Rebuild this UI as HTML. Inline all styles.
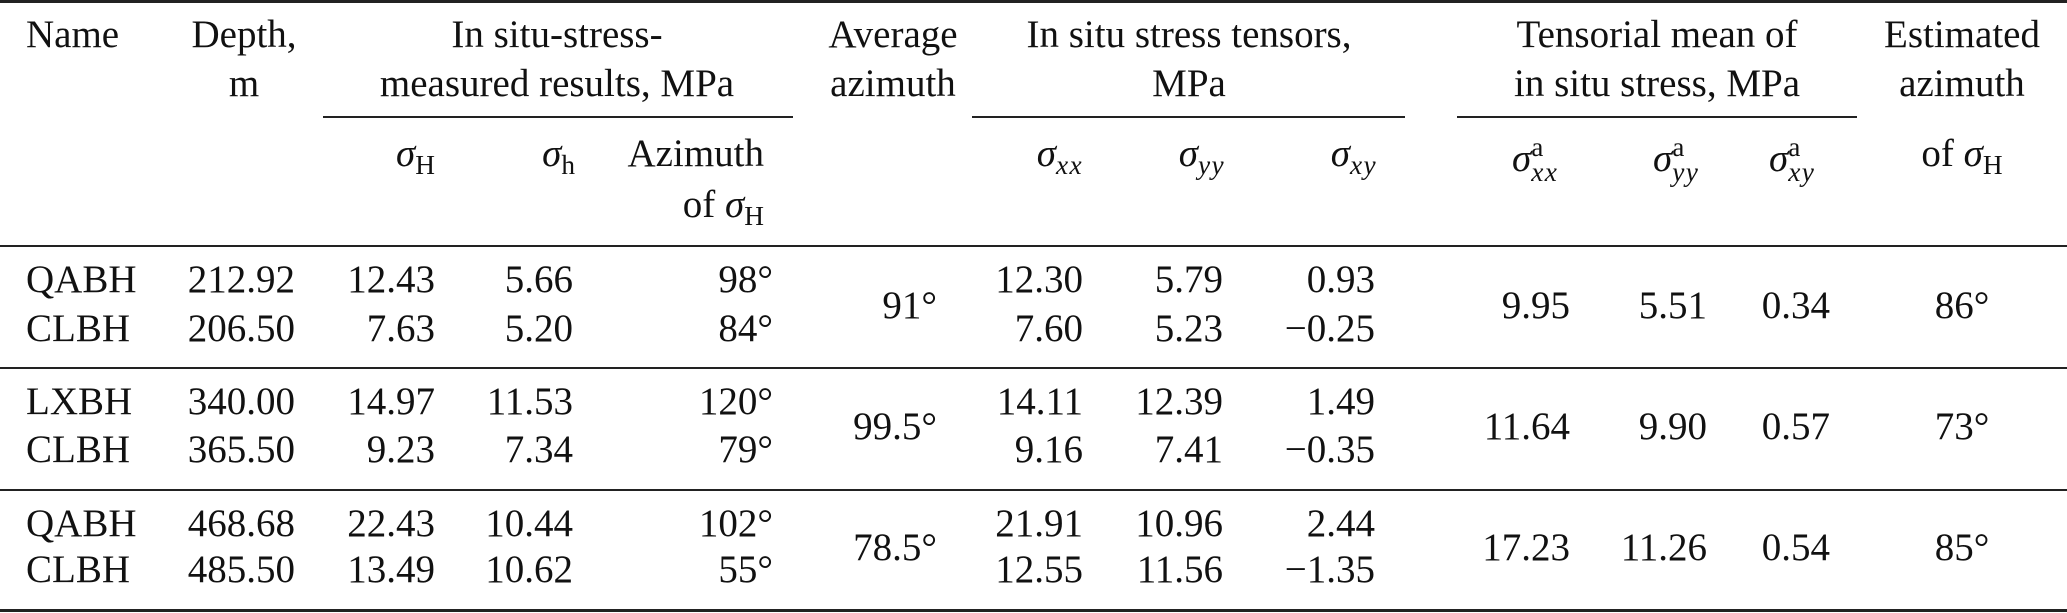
<!DOCTYPE html>
<html><head><meta charset="utf-8">
<style>
html,body{margin:0;padding:0;background:#fff;}
#t{position:relative;width:2067px;height:613px;overflow:hidden;font-family:"Liberation Serif",serif;font-size:39px;color:#111;}
.c{position:absolute;white-space:nowrap;line-height:1;}
.r{position:absolute;background:#222;}
.s{font-style:italic;}
.sb{font-size:0.7em;position:relative;top:0.3em;}
.si{font-size:0.7em;font-style:italic;position:relative;top:0.3em;letter-spacing:0.05em;}
.ss{display:inline-block;vertical-align:-0.37em;line-height:0.92;font-size:0.7em;text-align:left;}
</style></head><body>
<div id="t">
<div class="r" style="left:0;top:0;width:2067px;height:3px"></div>
<div class="r" style="left:323px;top:116px;width:470px;height:2px"></div>
<div class="r" style="left:972px;top:116px;width:433px;height:2px"></div>
<div class="r" style="left:1457px;top:116px;width:400px;height:2px"></div>
<div class="r" style="left:0;top:245px;width:2067px;height:2px"></div>
<div class="r" style="left:0;top:367px;width:2067px;height:2px"></div>
<div class="r" style="left:0;top:489px;width:2067px;height:2px"></div>
<div class="r" style="left:0;top:609px;width:2067px;height:3px"></div>
</div>
<script>
var T=document.getElementById('t');
function put(html,x,base,align,name){
  var d=document.createElement('div');
  d.className='c';
  d.innerHTML=html;
  d.style.top=(base-33)+'px';
  if(align==='r'){d.style.right=(2067-x)+'px';}
  else if(align==='c'){d.style.left=(x-600)+'px';d.style.width='1200px';d.style.textAlign='center';}
  else{d.style.left=x+'px';}
  
  
  T.appendChild(d);
}
var sig='<span class="s">σ</span>';
// headers
put('Name',26,48,'l','header-name');
put('Depth,',244,48,'c','header-depth');
put('m',244,97,'c','header-depth-unit');
put('In situ-stress-',557,48,'c','header-measured');
put('measured results, MPa',557,97,'c','header-measured-2');
put('Average',893,48,'c','header-average');
put('azimuth',893,97,'c','header-average-2');
put('In situ stress tensors,',1189,48,'c','header-tensors');
put('MPa',1189,97,'c','header-tensors-2');
put('Tensorial mean of',1657,48,'c','header-tensorial');
put('in situ stress, MPa',1657,97,'c','header-tensorial-2');
put('Estimated',1962,48,'c','header-estimated');
put('azimuth',1962,97,'c','header-estimated-2');
put(sig+'<span class="sb">H</span>',435,167,'r','subheader-sigma-H');
put(sig+'<span class="sb">h</span>',575,167,'r','subheader-sigma-h');
put('Azimuth',764,167,'r','subheader-azimuth');
put('of '+sig+'<span class="sb">H</span>',764,218,'r','subheader-azimuth-2');
put(sig+'<span class="si">xx</span>',1083,167,'r','subheader-sigma-xx');
put(sig+'<span class="si">yy</span>',1225,167,'r','subheader-sigma-yy');
put(sig+'<span class="si">xy</span>',1377,167,'r','subheader-sigma-xy');
function supsub(s){return sig+'<span class="ss">a<br><i style="letter-spacing:0.05em">'+s+'</i></span>';}
put(supsub('xx'),1512,168,'l','subheader-mean-xx');
put(supsub('yy'),1653,168,'l','subheader-mean-yy');
put(supsub('xy'),1769,168,'l','subheader-mean-xy');
put('of '+sig+'<span class="sb">H</span>',1962,167,'c','subheader-estimated');

// data
var names=['QABH','CLBH','LXBH','CLBH','QABH','CLBH'];
var depth=['212.92','206.50','340.00','365.50','468.68','485.50'];
var sH=['12.43','7.63','14.97','9.23','22.43','13.49'];
var sh=['5.66','5.20','11.53','7.34','10.44','10.62'];
var az=['98°','84°','120°','79°','102°','55°'];
var sxx=['12.30','7.60','14.11','9.16','21.91','12.55'];
var syy=['5.79','5.23','12.39','7.41','10.96','11.56'];
var sxy=['0.93','−0.25','1.49','−0.35','2.44','−1.35'];
var avgAz=['91°','99.5°','78.5°'];
var mxx=['9.95','11.64','17.23'];
var myy=['5.51','9.90','11.26'];
var mxy=['0.34','0.57','0.54'];
var estAz=['86°','73°','85°'];
var rowBase=[293,342,415,463,537,583];
var midBase=[319,440,561];
for(var i=0;i<names.length;i++){
  var b=rowBase[i];
  put(names[i],26,b,'l','name-cell');
  put(depth[i],295,b,'r','depth-cell');
  put(sH[i],435,b,'r','sigma-H-cell');
  put(sh[i],573,b,'r','sigma-h-cell');
  put(az[i],773,b,'r','azimuth-cell');
  put(sxx[i],1083,b,'r','sigma-xx-cell');
  put(syy[i],1223,b,'r','sigma-yy-cell');
  put(sxy[i],1375,b,'r','sigma-xy-cell');
}
for(var j=0;j<avgAz.length;j++){
  var m=midBase[j];
  put(avgAz[j],937,m,'r','average-azimuth-cell');
  put(mxx[j],1570,m,'r','mean-xx-cell');
  put(myy[j],1707,m,'r','mean-yy-cell');
  put(mxy[j],1830,m,'r','mean-xy-cell');
  put(estAz[j],1962,m,'c','estimated-azimuth-cell');
}
</script>
</body></html>
